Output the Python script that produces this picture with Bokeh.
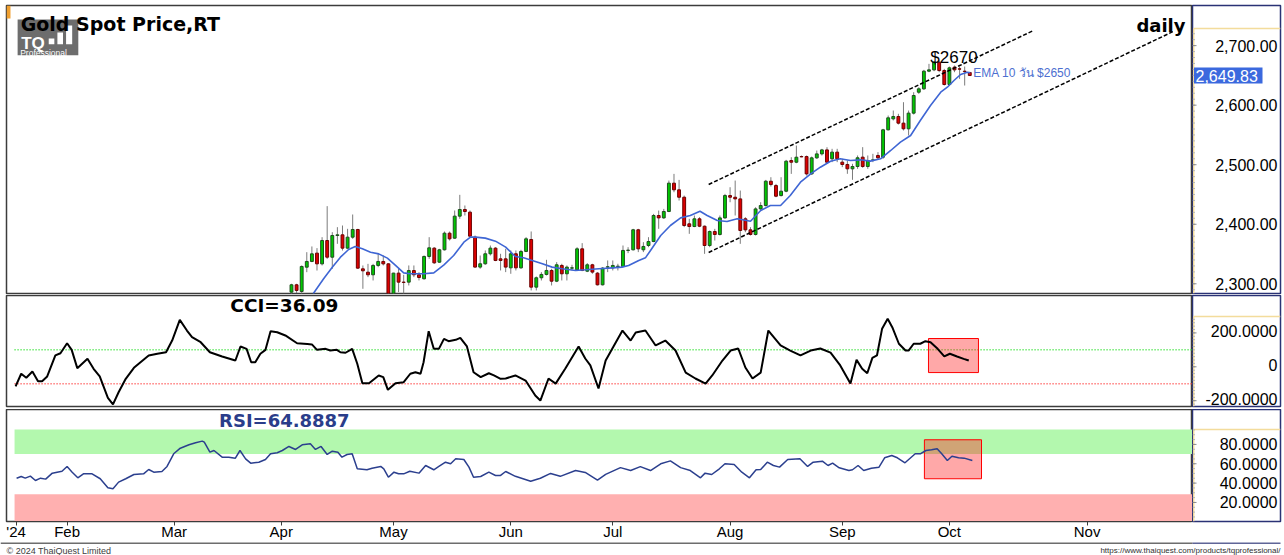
from bokeh.plotting import figure
from bokeh.models import Range1d, FixedTicker, Label
from bokeh.layouts import column, row
from bokeh.embed import file_html
from bokeh.resources import INLINE
from bokeh.core.properties import value

# ---------------- data ----------------
# daily candles (index 0 = 3 Apr 2024, trading days)
candle_open = [2286.0,2298.3,2287.1,2327.9,2337.5,2351.5,2333.5,2372.7,2344.7,2381.1,
 2382.2,2359.9,2378.3,2391.2,2325.1,2319.5,2315.1,2330.8,2337.5,2333.5,
 2284.0,2317.9,2302.8,2302.8,2322.3,2315.1,2308.4,2345.9,2359.9,2336.3,
 2357.1,2385.0,2376.6,2413.6,2424.8,2420.3,2378.4,2328.0,2333.6,2350.4,
 2359.9,2341.9,2341.9,2326.8,2350.4,2326.8,2354.3,2374.4,2294.4,2310.1,
 2315.7,2322.4,2304.4,2330.8,2316.8,2326.3,2323.5,2358.7,2321.2,2331.9,
 2317.9,2298.3,2328.0,2326.8,2329.1,2329.1,2356.0,2357.1,2390.7,2357.1,
 2364.3,2371.0,2414.7,2410.7,2421.4,2469.0,2457.8,2445.4,2400.7,2396.2,
 2409.1,2396.7,2364.3,2387.8,2382.8,2410.7,2448.2,2445.4,2442.6,2409.1,
 2390.6,2382.8,2425.8,2431.4,2472.3,2465.0,2448.2,2455.5,2507.0,2504.2,
 2513.7,2513.7,2484.6,2511.5,2518.2,2524.9,2509.9,2521.1,2504.3,2500.4,
 2493.1,2497.0,2512.7,2497.0,2507.1,2515.5,2512.7,2558.6,2577.0,2581.0,
 2569.8,2560.3,2586.6,2621.8,2627.4,2657.1,2659.3,2672.2,2658.2,2634.7,
 2663.8,2661.0,2657.1,2654.9]
candle_high = [2300.0,2300.0,2330.8,2353.1,2362.7,2359.9,2378.3,2430.4,2386.7,2395.1,
 2397.9,2392.3,2416.4,2392.3,2330.8,2333.5,2333.5,2350.3,2347.5,2334.5,
 2318.5,2325.1,2315.1,2330.8,2330.8,2319.5,2347.5,2378.3,2361.5,2358.7,
 2387.8,2387.8,2423.1,2449.4,2431.5,2423.1,2381.1,2347.5,2356.0,2364.3,
 2361.5,2350.4,2358.7,2356.0,2356.0,2357.1,2378.4,2387.9,2312.3,2319.6,
 2340.3,2325.2,2336.4,2333.6,2330.8,2331.9,2361.5,2368.3,2334.7,2333.6,
 2319.6,2328.0,2339.2,2339.2,2333.6,2364.3,2361.5,2392.3,2392.3,2369.9,
 2378.3,2417.4,2423.0,2425.8,2473.4,2484.6,2474.5,2448.2,2409.1,2414.7,
 2411.9,2397.9,2389.5,2392.3,2414.7,2451.0,2462.2,2473.4,2456.6,2411.9,
 2395.1,2428.6,2437.0,2474.5,2479.0,2467.8,2479.0,2508.1,2512.6,2532.2,
 2515.4,2515.4,2513.7,2523.8,2526.6,2529.4,2526.7,2526.7,2509.9,2507.1,
 2501.5,2515.5,2529.5,2515.5,2518.3,2521.1,2560.3,2582.6,2591.0,2585.5,
 2605.0,2591.0,2621.8,2630.2,2659.3,2669.4,2673.9,2675.0,2661.0,2664.9,
 2666.6,2664.9,2664.9,2655.4]
candle_low = [2283.2,2284.5,2283.2,2319.5,2336.3,2322.3,2330.8,2341.9,2325.1,2367.1,
 2355.9,2358.7,2375.5,2325.1,2291.6,2311.2,2305.6,2327.9,2330.8,2280.0,
 2280.0,2286.0,2283.2,2297.2,2311.2,2305.6,2307.2,2341.9,2333.5,2335.2,
 2355.9,2372.7,2375.5,2409.1,2414.7,2378.0,2327.0,2325.2,2331.9,2347.5,
 2338.0,2322.4,2319.6,2316.8,2322.4,2325.2,2353.2,2288.8,2288.8,2305.6,
 2314.0,2297.2,2302.8,2305.6,2305.6,2322.4,2322.4,2321.2,2319.6,2316.8,
 2297.2,2297.2,2319.6,2322.4,2322.4,2328.0,2351.5,2356.0,2353.2,2353.2,
 2361.5,2369.9,2392.3,2409.1,2420.3,2453.8,2439.8,2395.1,2383.9,2395.1,
 2395.1,2350.3,2361.5,2372.7,2381.1,2409.1,2437.0,2414.7,2367.1,2386.7,
 2381.1,2381.1,2423.0,2429.8,2463.4,2445.4,2446.6,2453.8,2484.6,2502.5,
 2512.6,2481.8,2482.9,2509.8,2515.4,2501.4,2504.3,2504.3,2495.9,2484.7,
 2474.6,2493.1,2494.8,2493.1,2504.3,2508.2,2509.9,2557.5,2574.3,2567.5,
 2557.5,2549.1,2584.3,2619.0,2625.8,2655.4,2657.1,2655.4,2633.0,2633.0,
 2655.4,2644.2,2633.0,2649.8]
candle_close = [2298.3,2288.8,2329.1,2337.5,2350.3,2333.5,2372.7,2344.7,2381.1,2382.2,
 2359.9,2378.3,2391.2,2326.3,2321.8,2315.1,2330.8,2337.5,2333.5,2284.0,
 2317.9,2302.8,2302.3,2322.3,2315.1,2310.6,2345.9,2360.4,2335.2,2357.1,
 2385.0,2375.5,2413.6,2424.8,2421.4,2380.0,2328.0,2333.6,2350.4,2359.9,
 2339.2,2339.2,2328.0,2350.4,2326.8,2354.3,2375.5,2294.4,2310.1,2315.7,
 2322.4,2304.4,2331.9,2316.8,2328.0,2326.8,2358.7,2322.4,2331.9,2319.6,
 2298.3,2326.3,2328.5,2330.8,2329.5,2356.0,2356.5,2390.7,2358.7,2362.7,
 2371.0,2414.7,2410.7,2421.4,2469.0,2457.8,2445.4,2397.9,2396.2,2409.1,
 2396.7,2364.3,2387.8,2382.8,2410.7,2448.2,2445.4,2442.6,2389.5,2390.6,
 2382.8,2425.8,2431.4,2472.3,2466.7,2447.1,2455.5,2505.9,2504.2,2512.6,
 2513.2,2484.6,2511.5,2518.2,2524.9,2504.2,2521.1,2509.9,2500.4,2493.1,
 2497.0,2511.6,2497.0,2507.1,2508.2,2511.6,2558.6,2578.7,2581.0,2569.8,
 2560.3,2586.6,2616.2,2627.4,2657.1,2659.3,2672.2,2658.2,2634.7,2662.7,
 2659.3,2660.5,2656.6,2649.8]

ema_x = [4.25,6.3,8.0,9.6,11.2,12.5,13.9,15.5,17.1,18.8,20.4,22.0,23.3,25.9,27.9,29.9,
 31.8,33.8,35.1,36.1,38.0,40.0,42.0,43.9,45.5,47.2,49.2,51.1,53.1,55.7,57.6,60.3,
 62.9,64.8,66.1,68.1,69.4,70.4,72.4,74.3,76.3,78.2,80.1,81.5,83.5,85.4,87.4,90.0,
 92.0,93.9,95.9,97.8,99.8,101.8,103.7,105.7,107.6,109.6,111.6,113.5,115.5,117.5,
 119.4,121.4,123.3,125.3,127.3,128.6,129.9,131.2,132.5,133.1]
ema_y = [2283.2,2308.4,2327.9,2344.7,2357.6,2362.7,2358.7,2353.1,2350.3,2343.1,2330.8,
 2318.4,2316.8,2316.8,2318.4,2331.9,2347.5,2369.9,2378.3,2378.4,2376.7,2371.6,2361.5,
 2345.9,2343.6,2339.2,2333.6,2328.0,2325.2,2322.4,2323.5,2325.2,2326.8,2328.0,2330.8,
 2339.2,2343.6,2356.0,2381.1,2397.9,2410.7,2414.7,2421.9,2414.7,2406.3,2404.6,2409.1,
 2405.1,2423.0,2431.4,2431.4,2448.2,2470.6,2484.6,2495.8,2505.9,2509.9,2507.1,2508.2,
 2506.0,2509.9,2523.9,2537.9,2549.1,2574.3,2599.4,2621.8,2630.2,2641.4,2651.5,2655.4,
 2654.3]

cci_x = [-54.1,-53.0,-52.0,-50.8,-49.7,-48.9,-47.9,-46.3,-45.3,-44.0,-43.1,-42.0,-40.0,
 -38.8,-37.6,-36.0,-35.0,-33.9,-32.5,-30.9,-29.6,-28.0,-26.3,-24.6,-23.4,-21.9,-20.5,
 -19.5,-17.8,-16.0,-13.6,-11.0,-10.0,-8.8,-7.9,-7.1,-6.1,-5.1,-4.1,-2.8,-1.2,1.1,3.1,
 4.0,5.0,6.7,7.6,8.9,9.6,10.6,11.9,12.9,13.9,15.2,17.1,18.0,18.9,20.4,22.0,23.3,24.3,
 25.3,25.9,26.9,27.9,28.9,29.9,30.8,32.2,33.1,34.4,35.7,37.1,38.7,39.7,41.0,
 42.0,43.9,45.9,47.8,48.8,50.4,51.8,53.7,56.3,57.6,58.6,60.2,61.6,64.9,66.5,67.5,69.4,
 71.4,73.3,75.3,77.3,79.2,81.2,82.5,84.5,86.1,87.6,89.0,90.4,92.0,93.5,95.9,97.8,99.8,
 101.8,103.7,105.7,107.6,109.6,110.8,111.9,112.9,113.9,114.8,115.8,116.9,117.8,119.1,
 120.4,121.0,122.0,123.3,124.3,125.3,126.7,128.0,129.1,130.5,131.8,132.8]
cci_v = [-116,-41,-65,-28,-85,-85,-57,67,80,139,100,-8,47,-12,-57,-183,-222,-150,-71,-6,
 27,67,77,86,155,277,214,175,145,86,61,37,120,106,27,27,77,100,210,204,185,139,135,132,
 100,106,96,100,86,83,106,18,-97,-97,-51,-61,-136,-97,-91,-41,-32,-41,27,210,106,106,
 165,151,159,171,120,-32,-61,-38,-51,-71,
 -69,-51,-81,-169,-199,-69,-99,-10,120,49,8,-128,37,214,155,202,214,126,155,96,-34,-69,
 -99,-51,37,96,108,-4,-69,-34,214,126,96,67,96,108,84,8,-99,41,-12,-38,53,67,224,283,
 234,136,96,96,136,136,151,145,106,61,77,61,47,37]

rsi_x = [-53.9,-53.0,-52.2,-51.2,-50.2,-49.2,-48.2,-46.9,-45.0,-44.0,-43.0,-41.9,-40.8,
 -39.1,-37.5,-36.0,-35.0,-33.9,-32.5,-30.9,-29.0,-28.0,-27.0,-25.4,-24.4,-23.1,-21.8,
 -20.1,-18.8,-17.5,-17.1,-16.0,-15.2,-13.6,-12.3,-11.0,-10.1,-9.0,-8.0,-6.4,-5.1,-4.1,
 -2.8,-1.8,-0.5,0.8,2.1,3.7,4.7,5.8,7.0,8.0,9.1,9.9,10.9,11.9,12.9,14.8,15.8,17.5,18.1,
 19.0,20.1,21.0,22.0,23.2,25.0,26.3,27.9,28.9,30.2,31.2,32.2,33.8,34.8,35.7,37.1,38.7,
 40.0,41.0,
 42.0,43.9,46.9,48.8,50.8,52.7,55.7,57.6,60.0,61.6,64.5,66.5,68.4,70.4,72.4,74.3,76.3,78.2,
 80.2,81.1,82.4,83.9,85.0,86.8,88.3,89.8,91.1,92.0,93.3,94.5,95.7,97.3,99.7,101.2,102.3,
 104.1,105.2,106.1,107.4,109.3,110.0,111.1,112.2,113.7,115.2,116.3,117.7,118.8,120.3,
 122.3,123.3,124.4,125.5,126.6,127.5,128.6,129.5,130.8,131.9,133.5]
rsi_v = [45.1,46.8,45.1,47.2,42.7,45.1,44.1,50.3,52.3,57.2,51.3,45.5,49.6,49.6,44.5,35.2,
 34.1,41.0,44.5,48.9,49.6,54.1,51.3,52.0,57.2,70.3,76.1,79.6,81.7,83.4,82.3,72.0,73.7,
 66.8,66.8,65.8,73.7,65.1,60.6,61.6,64.4,70.3,71.4,73.7,77.9,74.8,79.6,80.7,74.8,77.9,
 69.6,73.0,72.0,66.8,69.6,70.3,54.8,53.8,55.4,57.2,54.8,46.1,51.3,49.6,49.6,52.3,50.3,
 58.2,53.8,57.2,61.6,60.0,65.1,64.4,56.5,46.1,46.8,51.3,47.9,47.9,
 52,47,42,45,50,47,53,51,43,49,56,53,57,53,60,63,56,53,
 45.5,50.3,48.9,54.8,60.0,59.3,51.3,45.5,53.8,54.1,61.6,58.2,56.5,64.4,65.1,57.2,61.6,
 62.7,58.2,60.6,55.8,53.0,53.8,58.2,53.0,55.4,56.5,66.2,68.6,66.2,61.0,70.3,70.3,73.7,
 74.5,75.5,70.3,63.4,67.8,66.2,65.8,63.4]

# trend channel (dashed lines)
upper_x = [81.8, 145.5]
upper_y = [2466.8, 2725.4]
lower_x = [81.8, 173.0]
lower_y = [2352.6, 2724.2]

# highlight boxes
cci_box = dict(left=124.9, right=134.7, bottom=-34, top=167)
rsi_box = dict(left=124.1, right=135.3, bottom=44.5, top=84.8)

# axis ticks
price_ticks = [2300, 2400, 2500, 2600, 2700]
price_tick_labels = ["2,300.00", "2,400.00", "2,500.00", "2,600.00", "2,700.00"]
cci_ticks = [-200, 0, 200]
cci_tick_labels = ["-200.0000", "0", "200.0000"]
rsi_ticks = [20, 40, 60, 80]
rsi_tick_labels = ["20.0000", "40.0000", "60.0000", "80.0000"]
month_idx = [-54, -44, -23, -2, 20, 43, 63, 86, 108, 129, 156]
month_labels = ["'24", "Feb", "Mar", "Apr", "May", "Jun", "Jul", "Aug", "Sep", "Oct", "Nov"]

last_price = 2649.83
last_price_text = "2,649.83"
cci_last = "CCI=36.09"
rsi_last = "RSI=64.8887"

# ---------------- helpers ----------------
XR = Range1d(-55.88, 176.67)
FONT = "Liberation Sans"
EDGE = "#3c3c3c"


def make_fig(frame_h, yr, top, bottom, xaxis=None):
    p = figure(frame_width=1186, frame_height=frame_h, x_range=XR, y_range=yr,
               x_axis_location=xaxis, y_axis_location=None, toolbar_location=None,
               output_backend="svg", min_border_left=6, min_border_right=0,
               min_border_top=top, min_border_bottom=bottom)
    p.grid.visible = False
    p.outline_line_color = EDGE
    p.outline_line_width = 1.5
    p.background_fill_color = "white"
    p.border_fill_color = "white"
    return p


def make_axis_fig(frame_h, yr, top, bottom, ticks, labels, minor, box_top, dy=0):
    a = figure(frame_width=88, frame_height=frame_h, x_range=Range1d(0, 88), y_range=yr,
               x_axis_location=None, y_axis_location=None, toolbar_location=None,
               output_backend="svg", min_border_left=0, min_border_right=4,
               min_border_top=top, min_border_bottom=bottom)
    a.grid.visible = False
    a.outline_line_color = "#2a3275"
    a.outline_line_width = 1.5
    a.background_fill_color = "white"
    a.border_fill_color = "white"
    y0 = yr.start
    a.segment(x0=[1.2, 1.2], y0=[y0, box_top], x1=[1.2, 88], y1=[box_top, box_top],
              line_color="#f3dc9c", line_width=1.5)
    a.segment(x0=[0] * len(minor), y0=minor, x1=[2.5] * len(minor), y1=minor,
              line_color="#b5b5b5", line_width=1)
    a.segment(x0=[0] * len(ticks), y0=ticks, x1=[4] * len(ticks), y1=ticks,
              line_color="#8a8a8a", line_width=1)
    a.text(x=[85] * len(ticks), y=ticks, text=labels, text_align="right",
           text_baseline="middle", text_font=value(FONT), text_font_size="16px",
           text_color="black", y_offset=dy)
    return a


# ---------------- main price panel ----------------
yr1 = Range1d(2283.7, 2767.4)
p1 = make_fig(288, yr1, 5, 1)
a1 = make_axis_fig(288, yr1, 5, 1, price_ticks, price_tick_labels,
                   list(range(2290, 2730, 10)), 2728.7)

idx = list(range(len(candle_open)))
up = [c >= o for o, c in zip(candle_open, candle_close)]
body_top = [max(o, c) for o, c in zip(candle_open, candle_close)]
body_bot = [min(o, c) for o, c in zip(candle_open, candle_close)]
fill = ["#00c800" if u else "#dc0000" for u in up]
edge = ["#1e4d1e" if u else "#6b0000" for u in up]

p1.segment(x0=idx, y0=candle_low, x1=idx, y1=candle_high, line_color="#7c7c7c", line_width=1)
p1.vbar(x=idx, width=0.56, top=body_top, bottom=body_bot, fill_color=fill, line_color=edge, line_width=1)
p1.line(ema_x, ema_y, line_color="#3f66d4", line_width=1.6)
p1.line(upper_x, upper_y, line_color="black", line_dash="4 2", line_width=1.5)
p1.line(lower_x, lower_y, line_color="black", line_dash="4 2", line_width=1.5)

# orange marker + logo
p1.quad(left=[-55.88], right=[-55.1], bottom=[2745.5], top=[2767.4], fill_color="#f0a030", line_color=None)
p1.quad(left=[-53.7], right=[-41.8], bottom=[2684.0], top=[2743.8], fill_color="#6d6d6d", line_color=None)
p1.quad(left=[-47.6, -45.9, -44.2], right=[-46.5, -44.8, -43.0],
        bottom=[2702.5, 2702.5, 2702.5], top=[2712.0, 2722.0, 2733.7],
        fill_color="white", line_color=None)
p1.add_layout(Label(x=-53.0, y=2703.0, text="TQ", text_font=FONT, text_font_style="bold",
                    text_font_size="17px", text_color="white", text_baseline="alphabetic"))
p1.add_layout(Label(x=-53.2, y=2687.2, text="Professional", text_font=FONT,
                    text_font_size="8.5px", text_color="white", text_baseline="alphabetic"))

p1.add_layout(Label(x=-53.1, y=2737.1, text="Gold Spot Price,RT", text_font="DejaVu Sans",
                    text_font_style="bold", text_font_size="19px", text_color="black",
                    text_baseline="alphabetic"))
p1.add_layout(Label(x=175.3, y=2733.8, text="daily", text_font="DejaVu Sans",
                    text_font_style="bold", text_font_size="18px", text_color="black",
                    text_align="right", text_baseline="alphabetic"))
p1.add_layout(Label(x=129.9, y=2680.5, text="$2670", text_font=FONT, text_font_size="17px",
                    text_color="black", text_align="center", text_baseline="alphabetic"))
p1.add_layout(Label(x=133.7, y=2653.7, text="EMA 10 วัน $2650", text_font=FONT,
                    text_font_size="12px", text_color="#4d6fd0", text_baseline="alphabetic"))

# last-price tag on the price scale
a1.quad(left=[1.5], right=[70], bottom=[last_price - 13.5], top=[last_price + 13.5],
        fill_color="#3b69de", line_color=None)
a1.text(x=[3], y=[last_price], text=[last_price_text], text_align="left", text_baseline="middle",
        text_font=value(FONT), text_font_size="16px", text_color="white")

# ---------------- CCI panel ----------------
yr2 = Range1d(-234.2, 420.7)
p2 = make_fig(111, yr2, 1, 3)
a2 = make_axis_fig(111, yr2, 1, 3, cci_ticks, cci_tick_labels,
                   list(range(-220, 300, 20)), 296.8, dy=-2)
p2.segment(x0=[-54.3, -54.3], y0=[100, -100], x1=[176.67, 176.67], y1=[100, -100],
           line_color=["#2be02b", "#ff3b3b"], line_dash="1 2", line_width=1.5)
p2.quad(**{k: [v] for k, v in cci_box.items()}, fill_color="#ff1a1a", fill_alpha=0.38,
        line_color="#ff0000", line_width=1)
p2.line(cci_x, cci_v, line_color="black", line_width=2)
p2.add_layout(Label(x=-1.4, y=360.5, text=cci_last, text_font="DejaVu Sans",
                    text_font_style="bold", text_font_size="18.5px", text_color="black",
                    text_align="center", text_baseline="middle"))

# ---------------- RSI panel ----------------
yr3 = Range1d(0.3, 116.1)
p3 = make_fig(112, yr3, 0, 19, xaxis="below")
a3 = make_axis_fig(112, yr3, 0, 19, rsi_ticks, rsi_tick_labels,
                   list(range(5, 96, 5)), 95.3)
p3.quad(left=[-54.3, -54.3], right=[176.67, 176.67], bottom=[70, 0], top=[95.5, 28.5],
        fill_color=["#b3f8ae", "#ffb0b0"], line_color=None)
p3.quad(**{k: [v] for k, v in rsi_box.items()}, fill_color="#ff1a1a", fill_alpha=0.38,
        line_color="#ff0000", line_width=1)
p3.line(rsi_x, rsi_v, line_color="#2b3f8e", line_width=1.5)
p3.add_layout(Label(x=-1.4, y=104.6, text=rsi_last, text_font="DejaVu Sans",
                    text_font_style="bold", text_font_size="18px", text_color="#2a3d8a",
                    text_align="center", text_baseline="middle"))
xa = p3.xaxis[0]
xa.ticker = FixedTicker(ticks=month_idx)
xa.major_label_overrides = {t: s for t, s in zip(month_idx, month_labels)}
xa.axis_line_color = EDGE
xa.major_tick_in = 0
xa.major_tick_out = 4
xa.major_tick_line_color = EDGE
xa.minor_tick_out = 0
xa.major_label_standoff = -3
xa.major_label_text_font = FONT
xa.major_label_text_font_size = "15px"
xa.major_label_text_color = "black"

# ---------------- footer ----------------
p4 = figure(frame_width=1284, frame_height=15, x_range=Range1d(0, 1284), y_range=Range1d(0, 15),
            x_axis_location=None, y_axis_location=None, toolbar_location=None,
            output_backend="svg", min_border=0)
p4.grid.visible = False
p4.outline_line_color = None
p4.segment(x0=[0, 1192], y0=[14.5, 14.5], x1=[1192, 1280], y1=[14.5, 14.5],
           line_color=[EDGE, "#2a3275"], line_width=1.5)
p4.add_layout(Label(x=6, y=7, text="© 2024 ThaiQuest Limited", text_font=FONT,
                    text_font_size="9px", text_color="#404040", text_baseline="middle"))
p4.add_layout(Label(x=1280, y=7, text="https://www.thaiquest.com/products/tqprofessional/",
                    text_font=FONT, text_font_size="8px", text_color="#303030",
                    text_align="right", text_baseline="middle"))

layout = column(row(p1, a1, spacing=0), row(p2, a2, spacing=0), row(p3, a3, spacing=0), p4,
                spacing=0)
open("out.html", "w").write(file_html(layout, INLINE))
